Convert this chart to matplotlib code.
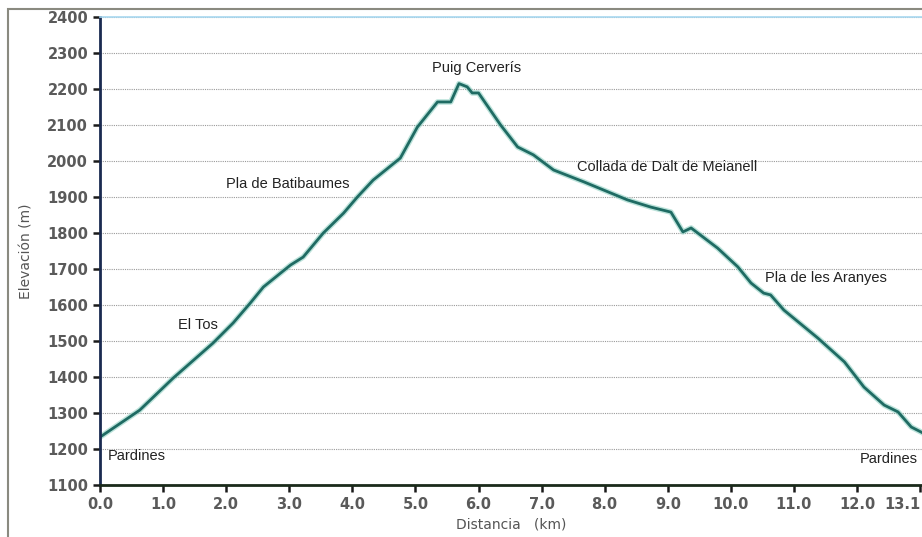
import matplotlib.pyplot as plt
from matplotlib.patches import Rectangle

# ================= DATA =================
distancia_km = [0.0, 0.63, 1.16, 1.79, 2.11, 2.38, 2.59, 3.02, 3.22, 3.54, 3.86, 4.08, 4.33,
                4.76, 5.03, 5.35, 5.56, 5.69, 5.82, 5.9, 6.0, 6.35, 6.62, 6.87, 7.19, 7.67,
                8.36, 8.73, 9.05, 9.24, 9.37, 9.79, 10.11, 10.32, 10.52, 10.63, 10.84, 11.38,
                11.8, 12.11, 12.43, 12.65, 12.86, 13.05, 13.1]
elevacion_m = [1233, 1308, 1397, 1494, 1550, 1605, 1650, 1711, 1733, 1800, 1855, 1900, 1947,
               2008, 2094, 2164, 2164, 2215, 2206, 2189, 2189, 2100, 2039, 2017, 1975, 1942,
               1892, 1872, 1858, 1803, 1814, 1758, 1706, 1661, 1633, 1628, 1586, 1508,
               1442, 1372, 1322, 1303, 1261, 1244, 1240]

x_ticks = [0, 1, 2, 3, 4, 5, 6, 7, 8, 9, 10, 11, 12, 13]
x_tick_labels = ["0.0", "1.0", "2.0", "3.0", "4.0", "5.0", "6.0", "7.0", "8.0", "9.0",
                 "10.0", "11.0", "12.0", "13.1"]
y_ticks = [1100, 1200, 1300, 1400, 1500, 1600, 1700, 1800, 1900, 2000, 2100, 2200, 2300, 2400]

# place name, distance, elevation, alignment
lugares = [
    ("Pardines", 0.13, 1180, "left"),
    ("El Tos", 1.24, 1545, "left"),
    ("Pla de Batibaumes", 2.0, 1935, "left"),
    ("Puig Cerverís", 5.97, 2258, "center"),
    ("Collada de Dalt de Meianell", 7.56, 1982, "left"),
    ("Pla de les Aranyes", 10.54, 1675, "left"),
    ("Pardines", 12.04, 1172, "left"),
]

# ================= FIGURE =================
fig = plt.figure(figsize=(9.22, 5.37), dpi=100)
fig.patches.append(Rectangle((8 / 922, -0.1), 1.2, 1.1 - 9 / 537, transform=fig.transFigure,
                             fill=False, edgecolor="#8a8a80", linewidth=1.5))
ax = fig.add_axes([100 / 922, 1 - 485 / 537, 822 / 922, 468 / 537])

ax.plot(distancia_km, elevacion_m, color="#8fd0c2", linewidth=4.0, alpha=0.6, solid_capstyle="round")
ax.plot(distancia_km, elevacion_m, color="#1f6b63", linewidth=2.0)

ax.set_xlim(0, 13.03)
ax.set_ylim(1100, 2400)
ax.set_xticks(x_ticks)
ax.set_xticklabels(x_tick_labels)
ax.set_yticks(y_ticks)

ax.grid(axis="y", linestyle=(0, (1, 1)), color="#9a9a9a", linewidth=0.8)
ax.set_axisbelow(True)

ax.spines["right"].set_visible(False)
ax.spines["top"].set_color("#a8d8f0")
ax.spines["top"].set_linewidth(1.2)
ax.spines["left"].set_color("#1a2a50")
ax.spines["left"].set_linewidth(2.0)
ax.spines["bottom"].set_color("#1a2a1a")
ax.spines["bottom"].set_linewidth(2.0)

ax.tick_params(axis="both", direction="out", length=5, width=1.8, color="#1a1a1a",
               labelsize=10.5, labelcolor="#5a5a5a")
for lab in ax.get_xticklabels() + ax.get_yticklabels():
    lab.set_fontweight("bold")
# last label pulled inside the figure, as in the original
ax.get_xticklabels()[-1].set_horizontalalignment("right")

ax.set_ylabel("Elevación (m)", fontsize=10, color="#555555", labelpad=10)
ax.set_xlabel("Distancia   (km)", fontsize=10, color="#555555", labelpad=4)

for nombre, d, e, ha in lugares:
    ax.text(d, e, nombre, ha=ha, va="center", fontsize=10.5, family="Liberation Sans", color="#222222")

fig.savefig("out.png", dpi=100)
